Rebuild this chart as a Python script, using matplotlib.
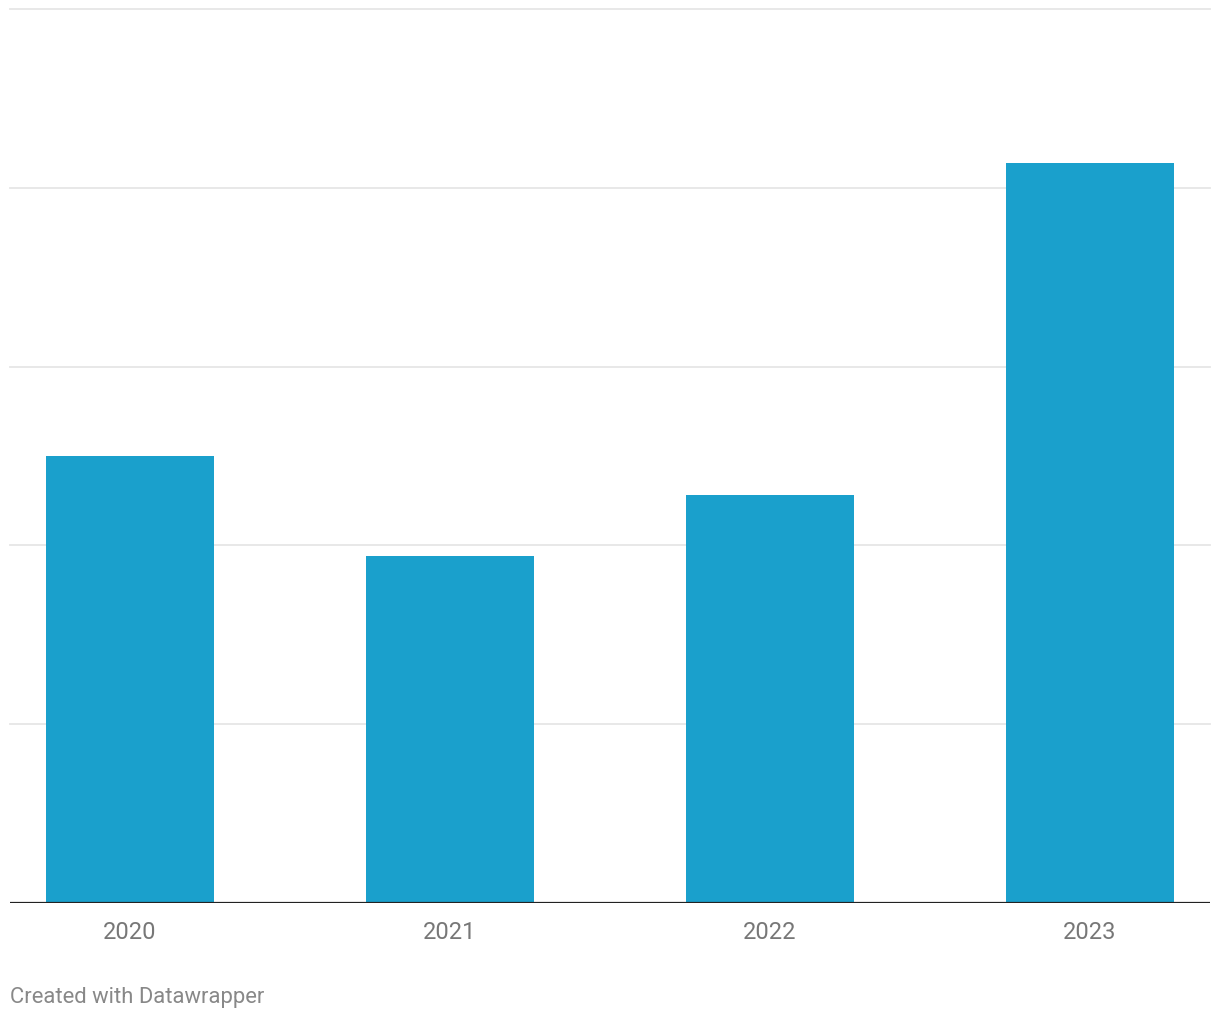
import numpy as np
import matplotlib.pyplot as plt

plt.rcParams['font.family'] = ['Roboto', 'DejaVu Sans']

years = ['2020', '2021', '2022', '2023']
values = [2.50, 1.94, 2.28, 4.14]
grid_ticks = [1, 2, 3, 4, 5]

fig = plt.figure(figsize=(12.2, 10.2), dpi=100)
ax = fig.add_axes([10 / 1220, 116 / 1020, 1200 / 1220, 894 / 1020])

x = np.arange(len(years))
ax.bar(x, values, width=0.525, color='#1aa0cc', zorder=2)

ax.set_xlim(-0.375, 3.375)
ax.set_ylim(0, 5)
for t in grid_ticks:
    ax.axhline(t, color='#e6e6e6', lw=1.3, zorder=1, clip_on=False)
ax.axhline(0, color='#222222', lw=1.6, zorder=3)

for s in ax.spines.values():
    s.set_visible(False)
ax.set_yticks([])
ax.set_xticks(x)
ax.set_xticklabels(years, fontsize=17, color='#777777')
ax.tick_params(axis='x', length=0, pad=12)

fig.text(10 / 1220, 1 - 998 / 1020, 'Created with Datawrapper', fontsize=15.8,
         color='#888888', ha='left', va='center')

fig.savefig('out.png', dpi=100)
